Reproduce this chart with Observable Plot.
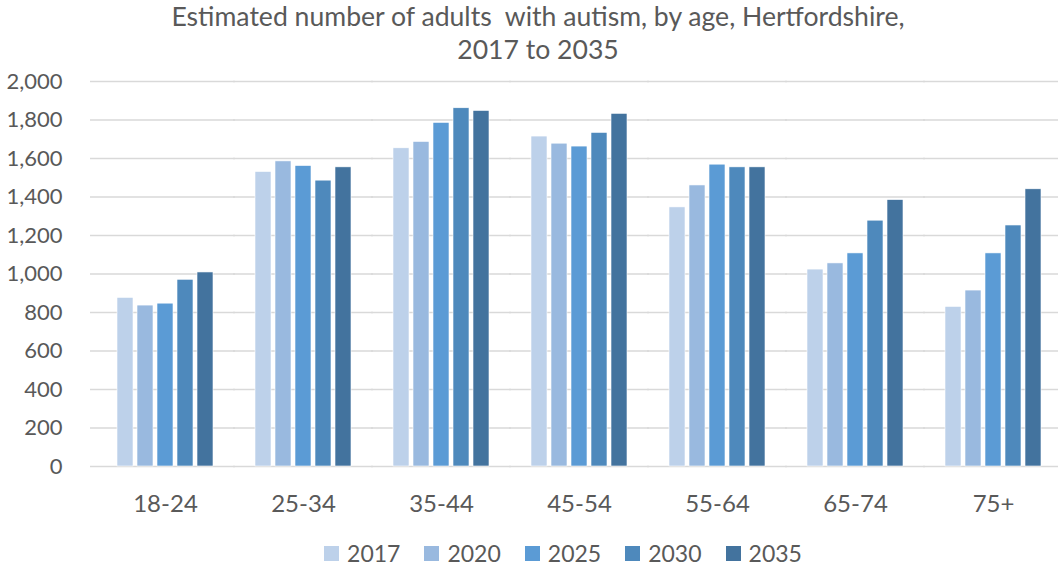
<!DOCTYPE html>
<html>
<head>
<meta charset="utf-8">
<script src="https://cdn.jsdelivr.net/npm/d3@7"></script>
<script src="https://cdn.jsdelivr.net/npm/@observablehq/plot@0.6"></script>
<style>
  html, body { margin: 0; padding: 0; background: #fff; }
  #wrap { width: 1062px; height: 569px; font-family: Lato, "Open Sans", sans-serif; color: #595959; }
  #title { height: 64px; text-align: center; font-size: 26.6px; line-height: 33px; white-space: pre; padding-top: 0px; padding-left: 14px; box-sizing: border-box; }
  #legend { display: flex; justify-content: center; align-items: center; height: 35px; font-size: 23px; padding-left: 64px; padding-top: 3px; box-sizing: border-box; }
  .item { display: flex; align-items: center; margin: 0 12px; }
  .sw { width: 15px; height: 15px; margin-right: 8px; }
</style>
</head>
<body>
<div id="wrap">
  <div id="title"></div>
  <div id="chart"></div>
  <div id="legend"></div>
</div>
<script>
const titleLines = ["Estimated number of adults  with autism, by age, Hertfordshire,", "2017 to 2035"];
const ageGroups = ["18-24", "25-34", "35-44", "45-54", "55-64", "65-74", "75+"];
const years = ["2017", "2020", "2025", "2030", "2035"];
const v2017 = [876, 1530, 1653, 1714, 1346, 1023, 829];
const v2020 = [836, 1585, 1686, 1677, 1460, 1055, 914];
const v2025 = [846, 1561, 1785, 1662, 1568, 1107, 1107];
const v2030 = [970, 1485, 1861, 1733, 1554, 1277, 1252];
const v2035 = [1008, 1554, 1847, 1832, 1554, 1384, 1440];
const yTicks = [0, 200, 400, 600, 800, 1000, 1200, 1400, 1600, 1800, 2000];
const colors = ["#BDD1EA", "#99B9DF", "#5B9BD5", "#4E89BC", "#43739E"];

const series = [v2017, v2020, v2025, v2030, v2035];
const data = [];
ageGroups.forEach((g, i) => {
  years.forEach((yr, j) => data.push({group: g, year: yr, value: series[j][i]}));
});

// gridline rows per facet (so each facet's rules can be stretched to close the gaps)
const gridRows = [];
ageGroups.forEach(g => yTicks.forEach(t => gridRows.push({group: g, tick: t})));
const first = ageGroups[0], last = ageGroups[ageGroups.length - 1];
const gridStyle = {fx: "group", y: "tick", stroke: "#d9d9d9", strokeWidth: 1.5};

document.getElementById("title").textContent = titleLines.join("\n");

const chart = Plot.plot({
  width: 1062,
  height: 470,
  marginTop: 17,
  marginBottom: 68,
  marginLeft: 96,
  marginRight: 0,
  style: {fontFamily: "Lato, 'Open Sans', sans-serif", color: "#595959", background: "#fff", overflow: "visible"},
  fx: {domain: ageGroups, paddingInner: 0.26, paddingOuter: 0.13, label: null},
  x: {domain: years, paddingInner: 0.2, paddingOuter: 0.1, axis: null},
  y: {domain: [0, 2000], label: null},
  color: {domain: years, range: colors},
  marks: [
    Plot.ruleY(gridRows.filter(d => d.group !== first && d.group !== last), {...gridStyle, insetLeft: -19, insetRight: -19}),
    Plot.ruleY(gridRows.filter(d => d.group === first), {...gridStyle, insetLeft: -24, insetRight: -19}),
    Plot.ruleY(gridRows.filter(d => d.group === last), {...gridStyle, insetLeft: -19, insetRight: -14}),
    Plot.barY(data, {fx: "group", x: "year", y: "value", fill: "year", stroke: "#ffffff", strokeWidth: 0.6}),
    Plot.axisY(yTicks, {tickSize: 0, tickPadding: 52, fontSize: 22, tickFormat: d3.format(","), fill: "#595959"}),
    Plot.axisFx({anchor: "bottom", tickSize: 0, tickPadding: 28, fontSize: 24, label: null, fill: "#595959"})
  ]
});
document.getElementById("chart").appendChild(chart);

const legend = document.getElementById("legend");
years.forEach((yr, j) => {
  const it = document.createElement("div");
  it.className = "item";
  const sw = document.createElement("span");
  sw.className = "sw";
  sw.style.background = colors[j];
  const tx = document.createElement("span");
  tx.textContent = yr;
  it.appendChild(sw);
  it.appendChild(tx);
  legend.appendChild(it);
});
</script>
</body>
</html>
